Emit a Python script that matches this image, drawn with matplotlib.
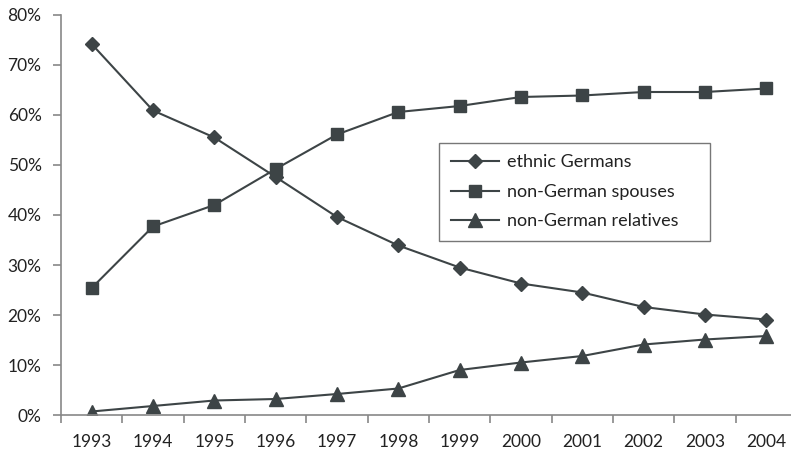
import matplotlib
matplotlib.use("Agg")
import matplotlib.pyplot as plt
import numpy as np

years = ["1993", "1994", "1995", "1996", "1997", "1998",
         "1999", "2000", "2001", "2002", "2003", "2004"]
ethnic_germans = [74.2, 60.9, 55.5, 47.6, 39.6, 33.9, 29.5, 26.3, 24.5, 21.6, 20.1, 19.1]
non_german_spouses = [25.4, 37.7, 42.0, 49.2, 56.1, 60.6, 61.8, 63.6, 63.9, 64.6, 64.6, 65.3]
non_german_relatives = [0.7, 1.8, 2.9, 3.2, 4.2, 5.3, 9.0, 10.5, 11.8, 14.1, 15.1, 15.8]
y_ticks = [0, 10, 20, 30, 40, 50, 60, 70, 80]

plt.rcParams['font.family'] = ['Lato', 'DejaVu Sans']
color = '#3d4446'
spine_color = '#888888'

fig = plt.figure(figsize=(7.91, 4.58), dpi=100)
ax = fig.add_axes([61/791, 43/458, 736/791, 400/458])

x = np.arange(len(years))
ax.plot(x, ethnic_germans, color=color, lw=1.5, marker='D', ms=7.5,
        label='ethnic Germans')
ax.plot(x, non_german_spouses, color=color, lw=1.5, marker='s', ms=8.5,
        label='non-German spouses')
ax.plot(x, non_german_relatives, color=color, lw=1.5, marker='^', ms=10,
        label='non-German relatives')

ax.set_xlim(-0.5, len(years) - 0.5)
ax.set_ylim(0, 80)
ax.set_yticks(y_ticks)
ax.set_yticklabels([f"{v}%" for v in y_ticks])
ax.set_xticks(x)
ax.set_xticklabels(years)
ax.set_xticks(np.arange(len(years) + 1) - 0.5, minor=True)

for s in ['top', 'right']:
    ax.spines[s].set_visible(False)
for s in ['left', 'bottom']:
    ax.spines[s].set_color(spine_color)
    ax.spines[s].set_linewidth(1.2)

ax.tick_params(axis='y', direction='out', length=6, width=1.2, color=spine_color,
               labelsize=12.5, labelcolor='#222222', pad=8)
ax.tick_params(axis='x', which='major', length=0, labelsize=12.5,
               labelcolor='#222222', pad=14)
ax.tick_params(axis='x', which='minor', direction='out', length=6, width=1.2,
               color=spine_color)

leg = ax.legend(loc='upper left', bbox_to_anchor=(0.5136, 0.4425, 0.3682, 0.2385),
                mode='expand',
                borderaxespad=0, fancybox=False, frameon=True,
                edgecolor='#555555', fontsize=13, handlelength=2.7,
                handletextpad=0.4, labelspacing=0.75, borderpad=0.65)
leg.get_frame().set_linewidth(1.0)
for t in leg.get_texts():
    t.set_color('#222222')

fig.savefig('out.png', dpi=100)
